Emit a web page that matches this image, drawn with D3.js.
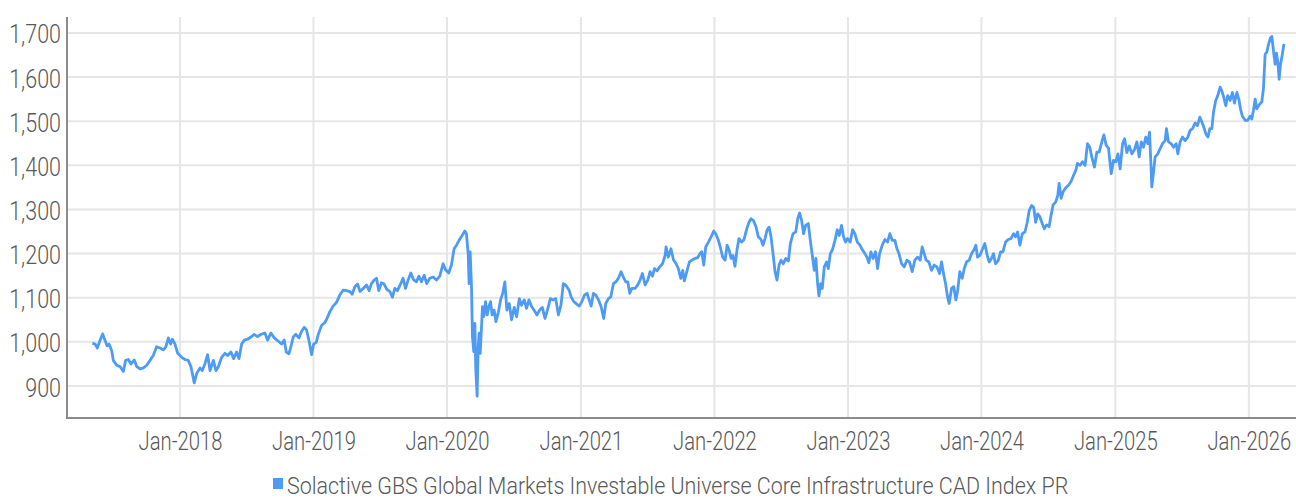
<!DOCTYPE html>
<html>
<head>
<meta charset="utf-8">
<script src="https://cdn.jsdelivr.net/npm/d3@7"></script>
<style>
  body { margin: 0; background: #fff; }
  svg text { font-family: "Roboto", sans-serif; font-weight: 300; fill: #595959; }
</style>
</head>
<body>
<svg id="chart"></svg>
<script>
// index level: [fractional year, value]
const points = [
  [2017.344,997],[2017.364,995],[2017.381,986],[2017.401,1003],[2017.421,1018],[2017.439,1003],[2017.454,991],[2017.469,995],
  [2017.489,980],[2017.501,958],[2017.526,947],[2017.551,944],[2017.576,933],[2017.593,958],[2017.613,960],[2017.633,950],
  [2017.658,959],[2017.676,944],[2017.701,939],[2017.726,941],[2017.751,947],[2017.776,958],[2017.800,969],[2017.825,989],
  [2017.850,986],[2017.875,982],[2017.895,989],[2017.913,1009],[2017.930,995],[2017.943,1006],[2017.963,995],[2017.983,974],
  [2018.013,965],[2018.038,960],[2018.062,958],[2018.082,944],[2018.107,907],[2018.125,928],[2018.150,941],[2018.167,935],
  [2018.187,950],[2018.207,971],[2018.225,935],[2018.250,958],[2018.270,935],[2018.287,943],[2018.312,965],[2018.337,974],
  [2018.357,969],[2018.382,977],[2018.402,962],[2018.424,977],[2018.442,962],[2018.462,995],[2018.482,1004],[2018.507,1006],
  [2018.532,1011],[2018.556,1017],[2018.581,1012],[2018.606,1017],[2018.636,1020],[2018.656,1004],[2018.681,1020],[2018.706,1009],
  [2018.731,1003],[2018.761,995],[2018.781,1004],[2018.796,977],[2018.816,973],[2018.831,989],[2018.848,1011],[2018.868,1017],
  [2018.891,1009],[2018.911,1024],[2018.931,1033],[2018.948,1027],[2018.966,1003],[2018.986,971],[2019.001,995],[2019.021,999],
  [2019.036,1017],[2019.060,1037],[2019.085,1044],
  [2019.097,1050],[2019.122,1068],[2019.147,1081],[2019.172,1089],[2019.197,1106],[2019.222,1117],[2019.247,1116],[2019.272,1114],
  [2019.290,1108],[2019.310,1125],[2019.330,1131],[2019.349,1114],[2019.372,1121],[2019.397,1129],[2019.417,1116],[2019.434,1132],
  [2019.454,1140],[2019.472,1144],[2019.489,1116],[2019.509,1134],[2019.529,1131],[2019.549,1119],[2019.572,1114],[2019.591,1101],
  [2019.609,1121],[2019.629,1116],[2019.649,1129],[2019.671,1144],[2019.689,1121],[2019.709,1140],[2019.729,1156],[2019.749,1141],
  [2019.771,1136],[2019.789,1149],[2019.809,1136],[2019.829,1151],[2019.848,1132],[2019.871,1144],[2019.896,1147],[2019.921,1140],
  [2019.946,1149],[2019.971,1177],[2019.988,1164],[2020.013,1156],[2020.033,1174],[2020.053,1211],[2020.071,1219],[2020.090,1230],
  [2020.113,1241],[2020.133,1251],[2020.145,1245],[2020.158,1200],[2020.165,1132],[2020.173,1204],[2020.183,1125],[2020.190,1012],
  [2020.200,978],[2020.208,1042],[2020.215,937],[2020.225,877],[2020.233,989],[2020.240,1020],[2020.248,974],[2020.258,1035],
  [2020.265,1080],[2020.275,1057],[2020.288,1091],[2020.300,1061],[2020.313,1080],[2020.325,1091],[2020.337,1061],[2020.352,1072],
  [2020.365,1046],[2020.382,1065],[2020.400,1095],[2020.417,1111],[2020.432,1136],[2020.447,1072],[2020.465,1087],[2020.482,1050],
  [2020.502,1078],[2020.520,1057],[2020.540,1098],[2020.557,1083],[2020.577,1095],[2020.594,1076],[2020.612,1095],[2020.632,1080],
  [2020.652,1071],[2020.672,1061],[2020.692,1072],[2020.712,1078],[2020.732,1053],[2020.752,1074],[2020.772,1098],[2020.792,1095],
  [2020.812,1098],[2020.832,1061],[2020.851,1083],[2020.869,1132],[2020.886,1129],
  [2020.912,1117],[2020.927,1102],[2020.947,1091],[2020.967,1086],[2020.987,1081],[2021.007,1091],[2021.027,1106],[2021.047,1110],
  [2021.062,1095],[2021.077,1081],[2021.094,1110],[2021.112,1106],[2021.132,1095],[2021.151,1080],[2021.171,1053],[2021.186,1087],
  [2021.206,1098],[2021.224,1102],[2021.244,1132],[2021.261,1136],[2021.281,1144],[2021.301,1159],[2021.319,1146],[2021.336,1136],
  [2021.351,1136],[2021.366,1110],[2021.381,1121],[2021.406,1121],[2021.426,1129],[2021.443,1140],[2021.461,1155],[2021.481,1129],
  [2021.501,1140],[2021.518,1159],[2021.536,1149],[2021.551,1166],[2021.571,1161],[2021.591,1170],[2021.611,1177],[2021.631,1196],
  [2021.638,1215],[2021.655,1192],[2021.675,1211],[2021.693,1186],[2021.713,1177],[2021.730,1166],[2021.748,1144],[2021.763,1162],
  [2021.775,1138],[2021.793,1159],[2021.813,1181],[2021.835,1186],[2021.855,1189],[2021.875,1191],[2021.892,1200],[2021.905,1204],
  [2021.920,1174],[2021.935,1215],[2021.955,1226],[2021.975,1238],[2021.995,1251],[2022.010,1245],[2022.030,1230],[2022.047,1211],
  [2022.062,1192],[2022.080,1185],[2022.095,1219],[2022.110,1208],[2022.125,1189],[2022.139,1196],[2022.154,1171],[2022.169,1208],
  [2022.184,1234],[2022.204,1226],[2022.222,1232],[2022.242,1256],[2022.259,1271],[2022.274,1279],[2022.294,1274],[2022.312,1260],
  [2022.329,1238],[2022.349,1232],[2022.364,1219],[2022.379,1234],[2022.394,1253],[2022.409,1260],[2022.424,1238],[2022.439,1200],
  [2022.454,1159],[2022.469,1140],[2022.484,1174],[2022.499,1185],[2022.516,1177],[2022.534,1189],[2022.554,1183],[2022.569,1223],
  [2022.589,1245],[2022.609,1249],[2022.624,1279],[2022.638,1292],[2022.653,1275],[2022.668,1245],[2022.683,1264],
  [2022.703,1268],[2022.715,1238],[2022.733,1196],[2022.748,1162],[2022.760,1189],[2022.773,1132],[2022.783,1104],[2022.795,1132],
  [2022.808,1121],[2022.823,1170],[2022.840,1181],[2022.853,1166],[2022.868,1200],[2022.883,1208],[2022.903,1230],[2022.920,1254],
  [2022.935,1241],[2022.952,1264],[2022.967,1238],[2022.982,1226],[2022.997,1234],[2023.017,1226],[2023.035,1254],[2023.052,1245],
  [2023.070,1226],[2023.090,1219],[2023.107,1209],[2023.127,1200],[2023.142,1192],[2023.157,1179],[2023.172,1204],[2023.189,1189],
  [2023.207,1204],[2023.222,1166],[2023.237,1200],[2023.257,1219],[2023.277,1232],[2023.297,1226],[2023.314,1245],[2023.332,1230],
  [2023.352,1230],[2023.367,1211],[2023.382,1200],[2023.402,1177],[2023.422,1170],[2023.441,1185],[2023.461,1181],[2023.481,1159],
  [2023.501,1185],[2023.521,1192],[2023.541,1185],[2023.556,1215],[2023.571,1200],[2023.586,1185],[2023.606,1181],[2023.626,1162],
  [2023.646,1174],[2023.666,1170],[2023.686,1155],[2023.701,1181],[2023.716,1155],[2023.731,1132],[2023.746,1102],[2023.758,1087],
  [2023.776,1121],[2023.793,1125],[2023.808,1095],[2023.821,1114],[2023.838,1159],[2023.856,1144],[2023.871,1166],[2023.888,1181],
  [2023.908,1185],[2023.926,1200],[2023.943,1208],[2023.958,1219],[2023.970,1192],[2023.988,1196],[2024.005,1208],[2024.025,1223],
  [2024.043,1196],[2024.058,1181],[2024.075,1189],[2024.090,1200],[2024.105,1177],[2024.125,1184],[2024.143,1204],[2024.160,1204],
  [2024.180,1226],[2024.200,1232],[2024.220,1234],[2024.240,1245],[2024.255,1238],[2024.270,1249],[2024.287,1219],[2024.305,1245],
  [2024.325,1249],[2024.342,1271],[2024.357,1298],[2024.375,1309],[2024.390,1305],[2024.405,1271],[2024.420,1290],[2024.437,1283],
  [2024.454,1268],[2024.469,1256],
  [2024.487,1265],[2024.505,1261],[2024.520,1287],[2024.535,1310],[2024.555,1317],[2024.570,1332],[2024.580,1359],[2024.595,1325],
  [2024.610,1340],[2024.630,1349],[2024.650,1355],[2024.670,1364],[2024.687,1377],[2024.705,1389],[2024.717,1404],[2024.737,1400],
  [2024.754,1408],[2024.774,1400],[2024.792,1449],[2024.809,1441],[2024.824,1419],[2024.844,1396],[2024.862,1430],[2024.879,1430],
  [2024.899,1453],[2024.914,1469],[2024.932,1445],[2024.949,1439],[2024.969,1381],[2024.986,1411],[2025.004,1408],[2025.019,1426],
  [2025.036,1392],[2025.054,1449],[2025.069,1460],[2025.086,1429],[2025.104,1444],[2025.124,1426],[2025.144,1436],[2025.161,1453],
  [2025.179,1419],[2025.194,1453],[2025.211,1441],[2025.228,1464],[2025.243,1449],[2025.256,1475],[2025.268,1392],[2025.273,1351],
  [2025.286,1385],[2025.298,1419],[2025.318,1426],[2025.336,1438],[2025.353,1449],[2025.373,1456],[2025.383,1483],[2025.398,1453],
  [2025.418,1449],[2025.436,1441],[2025.456,1449],[2025.468,1426],[2025.485,1453],[2025.503,1464],[2025.523,1456],[2025.543,1464],
  [2025.560,1479],[2025.578,1483],[2025.598,1496],[2025.615,1490],[2025.633,1509],[2025.648,1498],[2025.663,1486],[2025.678,1471],
  [2025.693,1464],[2025.708,1483],[2025.723,1483],[2025.735,1520],[2025.752,1547],[2025.767,1558],[2025.785,1577],[2025.797,1569],
  [2025.812,1554],[2025.827,1535],[2025.842,1558],[2025.860,1547],[2025.877,1565],[2025.892,1541],[2025.910,1565],[2025.927,1547],
  [2025.937,1528],[2025.952,1511],[2025.972,1502],[2025.992,1502],[2026.009,1511],[2026.022,1505],[2026.034,1524],[2026.047,1550],
  [2026.059,1528],[2026.077,1537],[2026.097,1544],[2026.109,1573],[2026.122,1652],[2026.134,1656],[2026.147,1674],[2026.162,1689],
  [2026.172,1692],[2026.187,1652],[2026.197,1629],[2026.207,1654],[2026.217,1633],[2026.227,1595],[2026.236,1626],[2026.251,1652],
  [2026.261,1672],[2026.271,1671]
];

const yTicks = [900, 1000, 1100, 1200, 1300, 1400, 1500, 1600, 1700];
const xTickYears = [2018, 2019, 2020, 2021, 2022, 2023, 2024, 2025, 2026];
const seriesName = "Solactive GBS Global Markets Investable Universe Core Infrastructure CAD Index PR";

const w = 1296;
const h = 498;
const plotLeft = 67;
const plotTop = 17;
const plotBottom = 418;
const lineColor = "#4d9bf5";

// fractional year -> Date
function toDate(y) {
  const yr = Math.floor(y);
  const a = new Date(yr, 0, 1);
  const b = new Date(yr + 1, 0, 1);
  return new Date(+a + (y - yr) * (b - a));
}

const svg = d3.select("#chart").attr("width", w).attr("height", h);

const xScale = d3.scaleTime()
  .domain([toDate(2017.154), toDate(2026.353)])
  .range([plotLeft, w]);

const yScale = d3.scaleLinear()
  .domain([827.5, 1736])
  .range([plotBottom, plotTop]);

const xTicks = xTickYears.map((y) => new Date(y, 0, 1));

// grid
svg.append("g")
  .selectAll("line")
  .data(yTicks)
  .enter()
  .append("line")
  .attr("x1", plotLeft)
  .attr("x2", w)
  .attr("y1", (d) => yScale(d))
  .attr("y2", (d) => yScale(d))
  .attr("stroke", "#e6e6e6")
  .attr("stroke-width", 2);

svg.append("g")
  .selectAll("line")
  .data(xTicks)
  .enter()
  .append("line")
  .attr("x1", (d) => xScale(d))
  .attr("x2", (d) => xScale(d))
  .attr("y1", plotTop)
  .attr("y2", plotBottom)
  .attr("stroke", "#e6e6e6")
  .attr("stroke-width", 2);

// axes (the source font is a narrow one, so squeeze Roboto sideways)
const yAxis = d3.axisLeft(yScale)
  .tickValues(yTicks)
  .tickFormat(d3.format(","))
  .tickSize(0)
  .tickPadding(7);

const yG = svg.append("g").attr("transform", `translate(${plotLeft}, 0)`).call(yAxis);
yG.select(".domain").remove();
yG.selectAll("text")
  .attr("font-size", 25)
  .attr("dy", "0.4em")
  .attr("transform", "scale(0.86,1)");

const xAxis = d3.axisBottom(xScale)
  .tickValues(xTicks)
  .tickFormat(d3.timeFormat("%b-%Y"))
  .tickSize(0)
  .tickPadding(14);

const xG = svg.append("g").attr("transform", `translate(0, ${plotBottom})`).call(xAxis);
xG.select(".domain").remove();
xG.selectAll("text")
  .attr("font-size", 25)
  .attr("transform", "scale(0.81,1)");

svg.append("line")
  .attr("x1", plotLeft).attr("x2", plotLeft)
  .attr("y1", plotTop).attr("y2", plotBottom)
  .attr("stroke", "#8c8c8c").attr("stroke-width", 2);

svg.append("line")
  .attr("x1", plotLeft - 1).attr("x2", w)
  .attr("y1", plotBottom).attr("y2", plotBottom)
  .attr("stroke", "#8c8c8c").attr("stroke-width", 2);

// series
const line = d3.line()
  .x((d) => xScale(toDate(d[0])))
  .y((d) => yScale(d[1]));

svg.append("path")
  .datum(points)
  .attr("fill", "none")
  .attr("stroke", lineColor)
  .attr("stroke-width", 2.8)
  .attr("stroke-linejoin", "round")
  .attr("d", line);

// legend
const legend = svg.append("g").attr("transform", "translate(273, 478)");
legend.append("rect").attr("width", 10).attr("height", 11).attr("fill", lineColor);
legend.append("g")
  .attr("transform", "translate(14, 16) scale(0.893,1)")
  .append("text")
  .attr("font-size", 24)
  .text(seriesName);
</script>
</body>
</html>
